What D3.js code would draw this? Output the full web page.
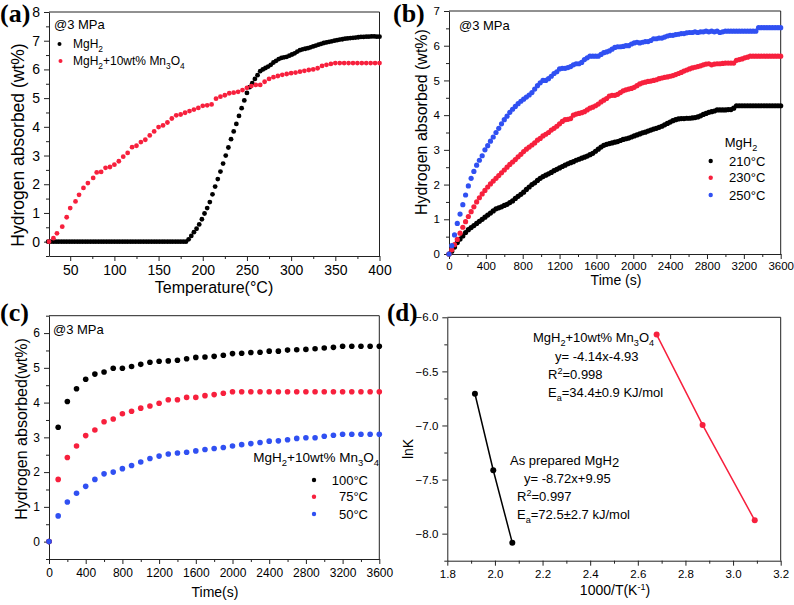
<!DOCTYPE html>
<html><head><meta charset="utf-8">
<script src="https://cdn.jsdelivr.net/npm/d3@7"></script>
<style>body{margin:0;background:#fff}svg{display:block}</style>
</head><body><svg id="c" width="794" height="605"></svg>
<script>
// ---------- DATA ----------
// (a) temperature-programmed absorption
const aBlackT = [25,28,31,34,37,40,43,46,49,52,55,58,61,64,67,70,73,76,79,82,85,88,91,94,97,100,103,106,109,112,115,118,121,124,127,130,133,136,139,142,145,148,151,154,157,160,163,166,169,172,175,178,181,
 184,187,190,193,196,199,202,205,208,211,214,217,220,223,226,229,232,235,238,241,244,247,250,
 253,256,259,262,265,268,271,274,277,280,283,286,289,292,295,298,301,304,307,310,313,316,319,322,325,328,331,334,337,340,343,346,349,352,355,358,361,364,367,370,373,376,379,382,385,388,391,394,397,400];
const aBlackV = [0,0,0,0,0,0,0,0,0,0,0,0,0,0,0,0,0,0,0,0,0,0,0,0,0,0,0,0,0,0,0,0,0,0,0,0,0,0,0,0,0,0,0,0,0,0,0,0,0,0,0,0,0,
 0.08,0.2,0.33,0.45,0.6,0.78,0.98,1.17,1.38,1.65,1.92,2.18,2.44,2.72,3.0,3.28,3.57,3.84,4.1,4.38,4.65,4.92,5.18,
 5.38,5.52,5.67,5.8,5.94,6.0,6.05,6.1,6.16,6.24,6.3,6.36,6.4,6.42,6.44,6.48,6.52,6.56,6.62,6.67,6.7,6.72,6.74,6.77,6.8,6.83,6.86,6.89,6.92,6.94,6.96,6.98,7.0,7.02,7.04,7.05,7.07,7.08,7.09,7.1,7.11,7.12,7.13,7.13,7.14,7.14,7.15,7.15,7.14,7.14];
const aRedT = [26,31,35,41,46,50,56,60,65,70,76,80,85,90,95,100,105,110,115,120,125,130,135,140,145,150,155,160,165,170,175,180,185,190,195,200,205,210,215,220,225,230,235,240,245,250,255,260,265,270,275,280,285,290,295,300,305,310,315,320,325,330,335,340,345,350,355,360,365,370,375,380,385,390,395,400];
const aRedV = [0,0.12,0.29,0.52,0.85,1.17,1.4,1.63,1.87,2.04,2.22,2.41,2.43,2.57,2.6,2.68,2.8,2.96,3.09,3.29,3.34,3.47,3.55,3.7,3.84,3.99,4.05,4.15,4.29,4.4,4.43,4.49,4.55,4.6,4.66,4.73,4.75,4.78,4.98,5.05,5.1,5.17,5.19,5.22,5.28,5.36,5.42,5.46,5.46,5.57,5.67,5.73,5.77,5.81,5.84,5.87,5.89,5.92,5.95,5.98,6.0,6.04,6.12,6.16,6.19,6.22,6.22,6.22,6.22,6.22,6.22,6.22,6.22,6.22,6.22,6.22];
const aXTicks = [50,100,150,200,250,300,350,400];
const aXMinor = [75,125,175,225,275,325,375];
const aYTicks = [0,1,2,3,4,5,6,7,8];
const aYMinor = [-0.5,0.5,1.5,2.5,3.5,4.5,5.5,6.5,7.5];

// (b) isothermal absorption of MgH2
const bTime = [0,30,60,90,120,150,180,210,240,270,300,330,360,390,420,450,480,510,540,570,600,630,660,690,720,750,780,810,840,870,900,930,960,990,1020,1050,1080,1110,1140,1170,1200,1230,1260,1290,1320,1350,1380,1410,1440,1470,1500,1530,1560,1590,1620,1650,1680,1710,1740,1770,1800,1830,1860,1890,1920,1950,1980,2010,2040,2070,2100,2130,2160,2190,2220,2250,2280,2310,2340,2370,2400,2430,2460,2490,2520,2550,2580,2610,2640,2670,2700,2730,2760,2790,2820,2850,2880,2910,2940,2970,3000,3030,3060,3090,3120,3150,3180,3210,3240,3270,3300,3330,3360,3390,3420,3450,3480,3510,3540,3570,3600];
const b210 = [0,0.08,0.2,0.33,0.43,0.52,0.62,0.7,0.76,0.82,0.88,0.94,1.0,1.06,1.12,1.18,1.24,1.3,1.33,1.36,1.4,1.43,1.48,1.53,1.6,1.66,1.72,1.78,1.86,1.93,2.0,2.05,2.12,2.18,2.23,2.27,2.31,2.35,2.4,2.44,2.48,2.52,2.56,2.6,2.63,2.66,2.7,2.73,2.76,2.79,2.82,2.86,2.9,2.96,3.02,3.08,3.13,3.16,3.18,3.2,3.22,3.24,3.27,3.3,3.32,3.34,3.37,3.4,3.43,3.46,3.49,3.51,3.54,3.57,3.6,3.62,3.65,3.68,3.72,3.76,3.8,3.84,3.87,3.89,3.9,3.9,3.91,3.91,3.92,3.93,3.95,3.98,4.02,4.05,4.08,4.1,4.12,4.15,4.15,4.15,4.15,4.16,4.16,4.2,4.27,4.27,4.27,4.27,4.27,4.27,4.27,4.27,4.27,4.27,4.27,4.27,4.27,4.27,4.27,4.27,4.27];
const b230 = [0,0.12,0.27,0.42,0.6,0.77,0.93,1.08,1.22,1.36,1.5,1.62,1.73,1.83,1.93,2.02,2.1,2.18,2.26,2.34,2.42,2.5,2.58,2.65,2.72,2.8,2.87,2.95,3.02,3.08,3.14,3.2,3.28,3.33,3.4,3.45,3.5,3.57,3.62,3.68,3.75,3.82,3.87,3.88,3.9,4.0,4.03,4.05,4.07,4.1,4.15,4.2,4.23,4.27,4.32,4.38,4.43,4.48,4.55,4.57,4.57,4.6,4.65,4.7,4.73,4.75,4.77,4.8,4.85,4.9,4.93,4.95,4.97,4.98,5.0,5.02,5.05,5.07,5.09,5.1,5.12,5.14,5.17,5.2,5.23,5.27,5.3,5.33,5.36,5.38,5.4,5.42,5.45,5.47,5.48,5.45,5.47,5.48,5.48,5.49,5.5,5.5,5.5,5.5,5.58,5.6,5.62,5.65,5.67,5.7,5.7,5.7,5.7,5.7,5.7,5.7,5.7,5.7,5.7,5.7,5.7];
const b250 = [0,0.24,0.55,0.88,1.15,1.42,1.7,1.96,2.18,2.38,2.56,2.7,2.83,3.0,3.12,3.25,3.37,3.5,3.62,3.75,3.87,3.97,4.08,4.17,4.25,4.33,4.4,4.46,4.52,4.58,4.65,4.75,4.85,4.93,5.0,5.0,5.05,5.12,5.2,5.25,5.33,5.35,5.35,5.37,5.4,5.45,5.48,5.48,5.52,5.6,5.65,5.7,5.7,5.7,5.7,5.75,5.8,5.82,5.85,5.9,5.95,5.97,5.97,5.98,6.0,6.0,6.05,6.08,6.1,6.08,6.1,6.12,6.12,6.15,6.2,6.2,6.22,6.22,6.25,6.28,6.3,6.3,6.32,6.33,6.35,6.35,6.37,6.38,6.38,6.4,6.38,6.4,6.4,6.42,6.4,6.42,6.4,6.42,6.38,6.4,6.42,6.42,6.42,6.42,6.42,6.42,6.42,6.42,6.42,6.42,6.42,6.42,6.52,6.52,6.52,6.52,6.52,6.52,6.52,6.52,6.52];
const bXTicks = [0,400,800,1200,1600,2000,2400,2800,3200,3600];
const bXMinor = [200,600,1000,1400,1800,2200,2600,3000,3400];
const bYTicks = [0,1,2,3,4,5,6,7];
const bYMinor = [0.5,1.5,2.5,3.5,4.5,5.5,6.5];
const bLegend = ["210°C","230°C","250°C"];

// (c) isothermal absorption of MgH2+10wt% Mn3O4
const cTime = [0,100,200,300,400,500,600,700,800,900,1000,1100,1200,1300,1400,1500,1600,1700,1800,1900,2000,2100,2200,2300,2400,2500,2600,2700,2800,2900,3000,3100,3200,3300,3400,3500,3600];
const c100 = [0,3.29,4.03,4.4,4.67,4.82,4.88,4.99,4.99,5.04,5.1,5.16,5.19,5.2,5.22,5.26,5.3,5.31,5.33,5.36,5.41,5.42,5.44,5.45,5.48,5.48,5.51,5.52,5.53,5.55,5.57,5.59,5.62,5.62,5.62,5.62,5.62];
const c75 = [0,1.79,2.42,2.75,3.05,3.21,3.45,3.53,3.68,3.75,3.84,3.9,3.98,4.08,4.08,4.15,4.15,4.2,4.23,4.27,4.31,4.31,4.31,4.31,4.31,4.31,4.31,4.31,4.31,4.31,4.31,4.31,4.31,4.31,4.31,4.31,4.31];
const c50 = [0,0.74,1.14,1.39,1.59,1.79,1.95,2.0,2.1,2.19,2.29,2.39,2.46,2.52,2.55,2.57,2.61,2.65,2.68,2.71,2.75,2.79,2.82,2.85,2.89,2.9,2.93,2.97,2.99,2.99,3.03,3.06,3.09,3.09,3.09,3.09,3.09];
const cXTicks = [0,400,800,1200,1600,2000,2400,2800,3200,3600];
const cXMinor = [200,600,1000,1400,1800,2200,2600,3000,3400];
const cYTicks = [0,1,2,3,4,5,6];
const cYMinor = [-0.5,0.5,1.5,2.5,3.5,4.5,5.5,6.5];
const cLegend = ["100°C","75°C","50°C"];

// (d) Arrhenius plots
const dMgH2X = [1.916,1.993,2.073];
const dMgH2Y = [-6.707,-7.414,-8.085];
const dMnX = [2.679,2.872,3.091];
const dMnY = [-6.16,-6.995,-7.877];
const dXTicks = [1.8,2.0,2.2,2.4,2.6,2.8,3.0,3.2];
const dXMinor = [1.9,2.1,2.3,2.5,2.7,2.9,3.1];
const dYTicks = [-6.0,-6.5,-7.0,-7.5,-8.0];
const dYMinor = [-6.25,-6.75,-7.25,-7.75,-8.25];

// ---------- DRAWING ----------
const FONT = "'Liberation Sans', Arial, Helvetica, sans-serif";
const SERIF = "'Liberation Serif', 'Times New Roman', serif";
const BLACK = "#000000", RED = "#f7203d", BLUE = "#3050f2";
const svg = d3.select("#c").style("font-family", FONT);
svg.append("rect").attr("width",794).attr("height",605).attr("fill","#fff");

function rich(g, x, y, parts, size, anchor) {
  const t = g.append("text").attr("x", x).attr("y", y).attr("font-size", size)
    .attr("text-anchor", anchor || "start").attr("fill", "#000");
  let shift = 0;
  parts.forEach(p => {
    const [s, kind] = Array.isArray(p) ? p : [p, "n"];
    let target = 0, fs = size;
    if (kind === "sub") { target = size * 0.3; fs = size * 0.7; }
    if (kind === "sup") { target = -size * 0.4; fs = size * 0.7; }
    if (kind === "low") { target = size * 0.15; fs = size; }
    t.append("tspan").attr("dy", target - shift).attr("font-size", fs).text(s);
    shift = target;
  });
  return t;
}

function panel(o) {
  const g = svg.append("g");
  const x = d3.scaleLinear().domain(o.xd).range([o.x0, o.x1]);
  const y = d3.scaleLinear().domain(o.yd).range([o.y1, o.y0]);
  const fmtX = o.fmtX || (d => d), fmtY = o.fmtY || (d => d);
  const ax = g.append("g").attr("transform", `translate(0,${o.y1})`)
    .call(d3.axisBottom(x).tickValues(o.xt).tickSize(5).tickSizeOuter(0).tickPadding(o.padX || 4).tickFormat(fmtX));
  const axm = g.append("g").attr("transform", `translate(0,${o.y1})`)
    .call(d3.axisBottom(x).tickValues(o.xm).tickSize(3).tickFormat(""));
  axm.select(".domain").remove();
  const ay = g.append("g").attr("transform", `translate(${o.x0},0)`)
    .call(d3.axisLeft(y).tickValues(o.yt).tickSize(5).tickSizeOuter(0).tickPadding(4).tickFormat(fmtY));
  const aym = g.append("g").attr("transform", `translate(${o.x0},0)`)
    .call(d3.axisLeft(y).tickValues(o.ym).tickSize(3).tickFormat(""));
  aym.select(".domain").remove();
  [ax, ay].forEach(a => a.selectAll("text").attr("font-family", FONT).attr("font-size", o.tickSize).attr("fill", "#000"));
  g.selectAll(".tick line, .domain").attr("stroke", "#222").attr("stroke-width", 1);
  g.append("path").attr("d", `M${o.x0},${o.y0}H${o.x1}V${o.y1}`).attr("fill","none").attr("stroke","#222");
  return {g, x, y};
}

function dots(p, xs, ys, color, r) {
  p.g.append("g").selectAll("circle").data(d3.zip(xs, ys)).join("circle")
    .attr("cx", d => p.x(d[0])).attr("cy", d => p.y(d[1])).attr("r", r).attr("fill", color);
}

// ---- (a)
const pa = panel({x0:49, x1:379.5, y0:12, y1:256, xd:[26,400], yd:[-0.5,8], xt:aXTicks, xm:aXMinor, yt:aYTicks, ym:aYMinor, tickSize:14});
dots(pa, aBlackT, aBlackV, BLACK, 2.4);
dots(pa, aRedT, aRedV, RED, 2.4);
pa.g.append("text").attr("x", 214).attr("y", 293).attr("text-anchor","middle").attr("font-size",16).text("Temperature(°C)");
pa.g.append("text").attr("transform","translate(24,145) rotate(-90)").attr("text-anchor","middle").attr("font-size",17.5).text("Hydrogen absorbed (wt%)");
rich(pa.g, 54, 29, ["@3 MPa"], 13);
pa.g.append("circle").attr("cx",59.5).attr("cy",44).attr("r",2).attr("fill",BLACK);
pa.g.append("circle").attr("cx",60.5).attr("cy",61).attr("r",2).attr("fill",RED);
rich(pa.g, 73, 48, ["MgH", ["2","sub"]], 12);
rich(pa.g, 73, 65, ["MgH", ["2","sub"], ["+10wt% Mn","n"], ["3","sub"], ["O","n"], ["4","sub"]], 12);
svg.append("text").attr("x",0).attr("y",22).attr("font-family",SERIF).attr("font-weight","bold").attr("font-size",26).text("(a)");

// ---- (b)
const pb = panel({x0:449, x1:780.7, y0:11, y1:254, xd:[0,3600], yd:[0,7], xt:bXTicks, xm:bXMinor, yt:bYTicks, ym:bYMinor, tickSize:11.5, padX:3});
dots(pb, bTime, b210, BLACK, 2.6);
dots(pb, bTime, b230, RED, 2.6);
dots(pb, bTime, b250, BLUE, 2.6);
pb.g.append("text").attr("x", 616).attr("y", 285).attr("text-anchor","middle").attr("font-size",14).text("Time (s)");
pb.g.append("text").attr("transform","translate(427,122) rotate(-90)").attr("text-anchor","middle").attr("font-size",16).text("Hydrogen absorbed (wt%)");
rich(pb.g, 459, 30, ["@3 MPa"], 13);
rich(pb.g, 741, 147, ["MgH", ["2","sub"]], 13, "middle");
[BLACK, RED, BLUE].forEach((c, i) => {
  const yy = [161, 177.7, 195][i];
  pb.g.append("circle").attr("cx",710.7).attr("cy",yy).attr("r",2.2).attr("fill",c);
  pb.g.append("text").attr("x",729).attr("y",yy+4.5).attr("font-size",13).text(bLegend[i]);
});
svg.append("text").attr("x",393).attr("y",22).attr("font-family",SERIF).attr("font-weight","bold").attr("font-size",26).text("(b)");

// ---- (c)
const pc = panel({x0:49, x1:379.3, y0:315.7, y1:559, xd:[0,3600], yd:[-0.5,6.5], xt:cXTicks, xm:cXMinor, yt:cYTicks, ym:cYMinor, tickSize:12});
dots(pc, cTime, c100, BLACK, 2.8);
dots(pc, cTime, c75, RED, 2.8);
dots(pc, cTime, c50, BLUE, 2.8);
pc.g.append("text").attr("x", 215).attr("y", 597).attr("text-anchor","middle").attr("font-size",14).text("Time(s)");
pc.g.append("text").attr("transform","translate(27,429) rotate(-90)").attr("text-anchor","middle").attr("font-size",16).text("Hydrogen absorbed(wt%)");
rich(pc.g, 53, 334, ["@3 MPa"], 13);
rich(pc.g, 379, 462, ["MgH", ["2","sub"], ["+10wt% Mn","n"], ["3","sub"], ["O","n"], ["4","sub"]], 13.5, "end");
[BLACK, RED, BLUE].forEach((c, i) => {
  const yy = [480, 496.7, 514][i];
  pc.g.append("circle").attr("cx",314).attr("cy",yy).attr("r",2.2).attr("fill",c);
  pc.g.append("text").attr("x",368).attr("y",yy+4.5).attr("text-anchor","end").attr("font-size",13).text(cLegend[i]);
});
svg.append("text").attr("x",0).attr("y",321).attr("font-family",SERIF).attr("font-weight","bold").attr("font-size",26).text("(c)");

// ---- (d)
const f1 = d3.format(".1f");
const pd = panel({x0:447.3, x1:780.7, y0:317.3, y1:560.7, xd:[1.8,3.2], yd:[-8.25,-6.0], xt:dXTicks, xm:dXMinor, yt:dYTicks, ym:dYMinor, tickSize:11.5, fmtX:f1, fmtY:f1});
const line = d3.line().x(d => pd.x(d[0])).y(d => pd.y(d[1]));
pd.g.append("path").attr("d", line(d3.zip(dMgH2X, dMgH2Y))).attr("fill","none").attr("stroke",BLACK).attr("stroke-width",1.5);
pd.g.append("path").attr("d", line(d3.zip(dMnX, dMnY))).attr("fill","none").attr("stroke",RED).attr("stroke-width",1.5);
dots(pd, dMgH2X, dMgH2Y, BLACK, 3);
dots(pd, dMnX, dMnY, RED, 3);
pd.g.append("text").attr("x", 615).attr("y", 595).attr("text-anchor","middle").attr("font-size",14)
  .call(t => { t.append("tspan").text("1000/T(K"); t.append("tspan").attr("dy",-5).attr("font-size",9).text("-1"); t.append("tspan").attr("dy",5).text(")"); });
pd.g.append("text").attr("transform","translate(413,449) rotate(-90)").attr("text-anchor","middle").attr("font-size",14).text("lnK");
rich(pd.g, 533, 342, ["MgH", ["2","sub"], ["+10wt% Mn","n"], ["3","sub"], ["O","n"], ["4","sub"]], 13);
rich(pd.g, 555, 361, ["y= -4.14x-4.93"], 13);
rich(pd.g, 548, 379, ["R", ["2","sup"], ["=0.998","n"]], 13);
rich(pd.g, 548, 397, ["E", ["a","sub"], ["=34.4±0.9 KJ/mol","n"]], 13);
rich(pd.g, 510, 465, ["As prepared MgH", ["2","low"]], 13);
rich(pd.g, 524, 483, ["y= -8.72x+9.95"], 13);
rich(pd.g, 517, 501, ["R", ["2","sup"], ["=0.997","n"]], 13);
rich(pd.g, 517, 519, ["E", ["a","sub"], ["=72.5±2.7 kJ/mol","n"]], 13);
svg.append("text").attr("x",387).attr("y",321).attr("font-family",SERIF).attr("font-weight","bold").attr("font-size",25).text("(d)");
</script></body></html>
